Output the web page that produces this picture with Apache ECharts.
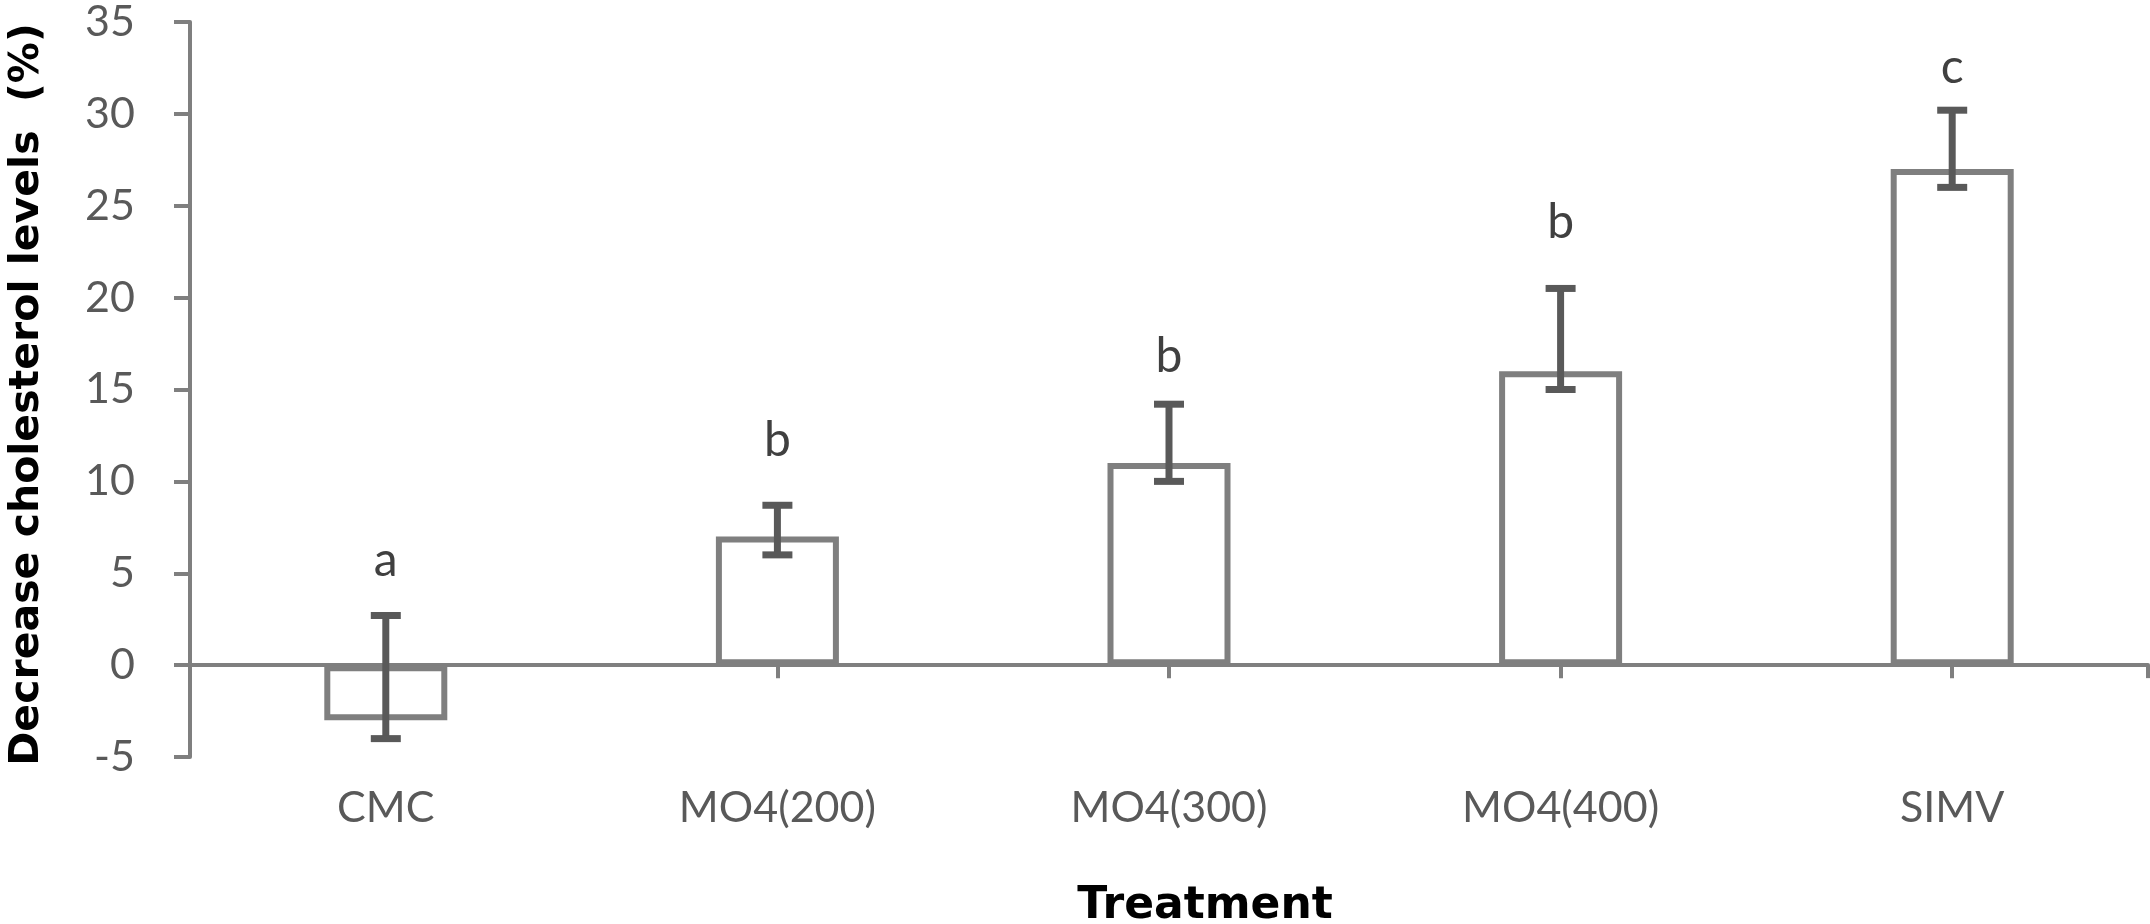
<!DOCTYPE html>
<html>
<head>
<meta charset="utf-8">
<script src="https://cdn.jsdelivr.net/npm/echarts@6/dist/echarts.min.js"></script>
<style>
html,body{margin:0;padding:0;background:#fff;}
#chart{width:2150px;height:924px;}
</style>
</head>
<body>
<div id="chart"></div>
<script>
const categories = ['CMC', 'MO4(200)', 'MO4(300)', 'MO4(400)', 'SIMV'];
const means = [-3, 7, 11, 16, 27];
const errLow = [-4, 6, 10, 15, 26];
const errHigh = [2.7, 8.7, 14.2, 20.5, 30.2];
const letters = ['a', 'b', 'b', 'b', 'c'];
const letterY = [5.7, 12.2, 16.8, 24.1, 32.5];
const yTicks = {min: -5, max: 35, interval: 5};

const axisColor = '#7f7f7f';
const errColor = '#595959';

const chart = echarts.init(document.getElementById('chart'), null, {renderer: 'canvas'});

const errData = categories.map((c, i) => [i, errLow[i], errHigh[i]]);
const letterData = categories.map((c, i) => [i, letterY[i]]);

chart.setOption({
  animation: false,
  backgroundColor: '#ffffff',
  grid: {left: 190, right: 2, top: 22, bottom: 167, containLabel: false, outerBoundsMode: 'none'},
  xAxis: {
    type: 'category',
    data: categories,
    position: 'bottom',
    axisLine: {show: true, onZero: true, lineStyle: {color: axisColor, width: 4}},
    axisTick: {show: true, alignWithLabel: true, length: 13, lineStyle: {color: axisColor, width: 4}},
    axisLabel: {margin: 30, color: '#595959', fontFamily: 'Lato', fontSize: 43},
    splitLine: {show: false},
    name: 'Treatment',
    nameLocation: 'middle',
    nameGap: 128,
    nameTextStyle: {fontFamily: 'DejaVu Sans', fontWeight: 'bold', fontSize: 44, color: '#000', padding: [0, 0, 0, 72]}
  },
  yAxis: {
    type: 'value',
    min: yTicks.min, max: yTicks.max, interval: yTicks.interval,
    axisLine: {show: true, lineStyle: {color: axisColor, width: 4}},
    axisTick: {show: true, length: 16, lineStyle: {color: axisColor, width: 4}},
    axisLabel: {margin: 55, color: '#595959', fontFamily: 'Lato', fontSize: 43},
    splitLine: {show: false},
    name: 'Decrease cholesterol levels  (%)',
    nameLocation: 'middle',
    nameGap: 142,
    nameTextStyle: {fontFamily: 'DejaVu Sans', fontWeight: 'bold', fontSize: 41, color: '#000', padding: [0, 10, 0, 0]}
  },
  series: [{
    type: 'bar',
    data: means,
    barWidth: 123,
    itemStyle: {color: '#ffffff', borderColor: axisColor, borderWidth: 6},
    silent: true
  }, {
    type: 'custom',
    data: errData,
    encode: {x: 0, y: [1, 2]},
    z: 5,
    renderItem: function (params, api) {
      const x = api.value(0);
      const lo = api.coord([x, api.value(1)]);
      const hi = api.coord([x, api.value(2)]);
      const half = 15;
      const st = {stroke: errColor, lineWidth: 7};
      const children = [
        {type: 'line', shape: {x1: hi[0], y1: hi[1], x2: lo[0], y2: lo[1]}, style: st},
        {type: 'line', shape: {x1: hi[0] - half, y1: hi[1], x2: hi[0] + half, y2: hi[1]}, style: st},
        {type: 'line', shape: {x1: lo[0] - half, y1: lo[1], x2: lo[0] + half, y2: lo[1]}, style: st}
      ];
      if (params.dataIndex === categories.length - 1) {
        // closing tick mark at the right end of the category axis
        const cs = params.coordSys;
        const zeroY = api.coord([x, 0])[1];
        const rx = cs.x + cs.width;
        children.push({type: 'line', shape: {x1: rx, y1: zeroY, x2: rx, y2: zeroY + 13},
          style: {stroke: axisColor, lineWidth: 4}});
      }
      return {type: 'group', children: children};
    }
  }, {
    type: 'custom',
    data: letterData,
    encode: {x: 0, y: 1},
    z: 6,
    renderItem: function (params, api) {
      const p = api.coord([api.value(0), api.value(1)]);
      return {
        type: 'text',
        x: p[0], y: p[1],
        style: {
          text: letters[params.dataIndex],
          fill: '#404040',
          fontFamily: 'Lato',
          fontSize: 48,
          align: 'center',
          verticalAlign: 'middle'
        }
      };
    }
  }]
});
</script>
</body>
</html>
